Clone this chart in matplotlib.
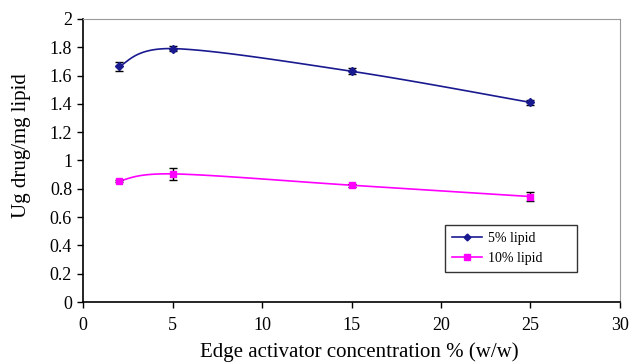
import numpy as np
import matplotlib.pyplot as plt

plt.rcParams['font.family'] = ['Liberation Serif', 'DejaVu Serif']

# data
conc = [2, 5, 15, 25]
lipid5 = [1.665, 1.79, 1.63, 1.41]
lipid5_err = [0.03, 0.02, 0.02, 0.015]
lipid10 = [0.855, 0.905, 0.825, 0.745]
lipid10_err = [0.01, 0.04, 0.01, 0.03]


def smooth(x, y, n=40):
    # Excel style smoothed line (bezier through points)
    x = np.asarray(x, float)
    y = np.asarray(y, float)
    xs, ys = [], []
    for i in range(len(x) - 1):
        x0, y0 = (x[i - 1], y[i - 1]) if i > 0 else (x[i], y[i])
        x3, y3 = (x[i + 2], y[i + 2]) if i + 2 < len(x) else (x[i + 1], y[i + 1])
        c1 = (x[i] + (x[i + 1] - x0) / 6, y[i] + (y[i + 1] - y0) / 6)
        c2 = (x[i + 1] - (x3 - x[i]) / 6, y[i + 1] - (y3 - y[i]) / 6)
        t = np.linspace(0, 1, n)
        bx = (1 - t) ** 3 * x[i] + 3 * (1 - t) ** 2 * t * c1[0] + 3 * (1 - t) * t ** 2 * c2[0] + t ** 3 * x[i + 1]
        by = (1 - t) ** 3 * y[i] + 3 * (1 - t) ** 2 * t * c1[1] + 3 * (1 - t) * t ** 2 * c2[1] + t ** 3 * y[i + 1]
        xs.extend(bx)
        ys.extend(by)
    return xs, ys


fig = plt.figure(figsize=(6.3, 3.63), dpi=100)
ax = fig.add_axes([0.132, 0.168, 0.852, 0.78])

blue = '#1a1a90'
pink = '#ff00ff'

sx, sy = smooth(conc, lipid5)
ax.plot(sx, sy, color=blue, lw=1.2)
ax.errorbar(conc, lipid5, yerr=lipid5_err, fmt='D', ms=4, color=blue,
            ecolor='black', elinewidth=1, capsize=3)
sx, sy = smooth(conc, lipid10)
ax.plot(sx, sy, color=pink, lw=1.2)
ax.errorbar(conc, lipid10, yerr=lipid10_err, fmt='s', ms=4.5, color=pink,
            ecolor='black', elinewidth=1, capsize=3)

# legend handles
ax.plot([], [], color=blue, marker='D', ms=3.5, lw=1.2, label='5% lipid')
ax.plot([], [], color=pink, marker='s', ms=4.5, lw=1.2, label='10% lipid')
handles, labels = ax.get_legend_handles_labels()
leg = ax.legend(handles[-2:], labels[-2:], loc='lower left',
                bbox_to_anchor=(0.674, 0.106, 0.246, 0.155), mode='expand',
                borderaxespad=0, fontsize=10, frameon=True, fancybox=False,
                edgecolor='black', borderpad=0.5, handlelength=2.2,
                handletextpad=0.4, labelspacing=0.5)
leg.get_frame().set_linewidth(1)

ax.set_xlim(0, 30)
ax.set_ylim(0, 2)
ax.set_xticks([0, 5, 10, 15, 20, 25, 30])
ax.set_yticks(np.arange(0, 2.01, 0.2))
ax.set_yticklabels(['0', '0.2', '0.4', '0.6', '0.8', '1', '1.2', '1.4', '1.6', '1.8', '2'])
ax.tick_params(labelsize=13, direction='out', length=4, width=1, pad=4)
ax.tick_params(axis='x', pad=7)

for s in ['top', 'right']:
    ax.spines[s].set_edgecolor('#999999')
for s in ['left', 'bottom']:
    ax.spines[s].set_edgecolor('black')
    ax.spines[s].set_linewidth(1.2)

ax.set_xlabel('Edge activator concentration % (w/w)', fontsize=15)
ax.set_ylabel('Ug drug/mg lipid', fontsize=15, va='center')
ax.xaxis.set_label_coords(0.515, -0.142)
ax.yaxis.set_label_coords(-0.114, 0.551)

plt.savefig('out.png', dpi=100)
